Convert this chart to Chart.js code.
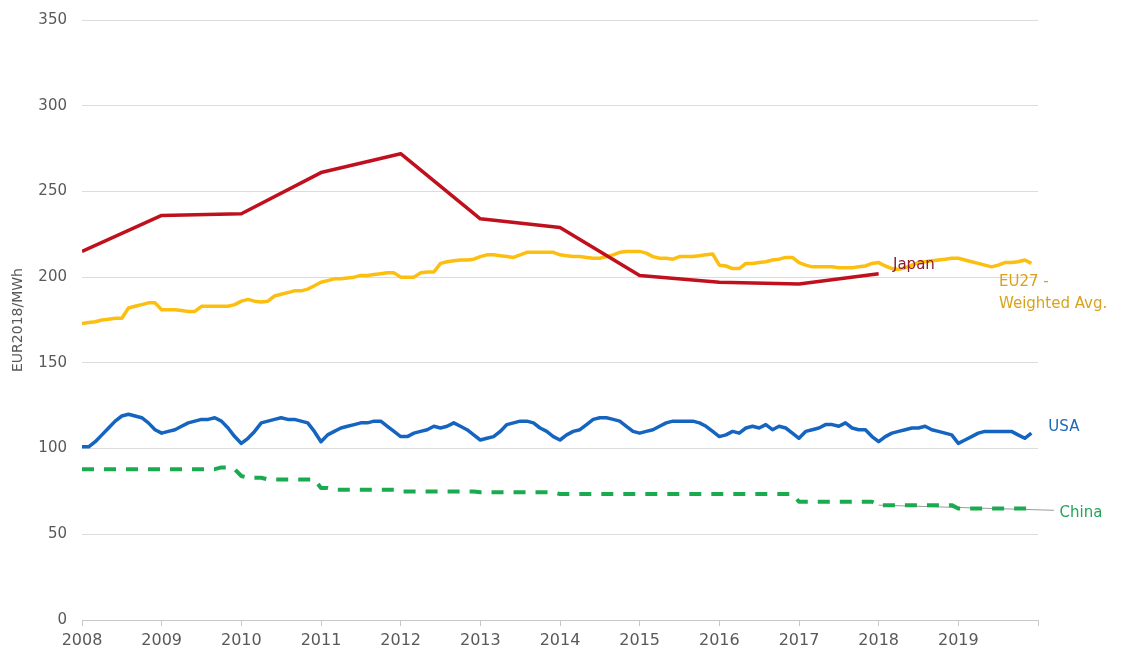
<!DOCTYPE html>
<html>
<head>
<meta charset="utf-8">
<script src="https://cdn.jsdelivr.net/npm/chart.js@4/dist/chart.umd.min.js"></script>
<style>
  html, body { margin: 0; padding: 0; background: #fff; }
  #wrap { width: 1126px; height: 662px; }
</style>
</head>
<body>
<div id="wrap"><canvas id="chart" width="1126" height="662"></canvas></div>
<script>
// year ticks on the x axis (2020 gets a tick but no label)
const yearTicks = [2008, 2009, 2010, 2011, 2012, 2013, 2014, 2015, 2016, 2017, 2018, 2019, 2020];
const startYear = 2008;

// Japan - yearly values
const japanYears = [2008, 2009, 2010, 2011, 2012, 2013, 2014, 2015, 2016, 2017, 2018];
const japanValues = [215, 236, 237, 261, 272, 234, 229, 201, 197, 196, 202];

// EU27 weighted average - monthly, Jan 2008 .. Dec 2019
const euValues = [
  173, 173.5, 174, 175, 175.5, 176, 176, 182, 183, 184, 185, 185,
  181, 181, 181, 180.5, 180, 180, 183, 183, 183, 183, 183, 184,
  186, 187, 186, 185.5, 186, 189, 190, 191, 192, 192, 193, 195,
  197, 198, 199, 199, 199.5, 200, 201, 201, 201.5, 202, 202.5, 202.5,
  200, 200, 200, 202.5, 203, 203, 208, 209, 209.5, 210, 210, 210.5,
  212, 213, 213, 212.5, 212, 211.5, 213, 214.5, 214.5, 214.5, 214.5, 214.5,
  213, 212.5, 212, 212, 211.5, 211, 211, 212, 213, 214.5, 215, 215,
  215, 214, 212, 211, 211, 210.5, 212, 212, 212, 212.5, 213, 213.5,
  207, 206.5, 205, 205, 208, 208, 208.5, 209, 210, 210.5, 211.5, 211.5,
  208.5, 207, 206, 206, 206, 206, 205.5, 205.5, 205.5, 206, 206.5, 208,
  208.5, 206.5, 205, 204.5, 205.5, 207, 208.5, 209, 209.5, 210, 210.5, 211,
  211, 210, 209, 208, 207, 206, 207, 208.5, 208.5, 209, 210, 208
];

// USA - monthly
const usaValues = [
  101, 101, 104, 108, 112, 116, 119, 120, 119, 118, 115, 111,
  109, 110, 111, 113, 115, 116, 117, 117, 118, 116, 112, 107,
  103, 106, 110, 115, 116, 117, 118, 117, 117, 116, 115, 110,
  104, 108, 110, 112, 113, 114, 115, 115, 116, 116, 113, 110,
  107, 107, 109, 110, 111, 113, 112, 113, 115, 113, 111, 108,
  105, 106, 107, 110, 114, 115, 116, 116, 115, 112, 110, 107,
  105, 108, 110, 111, 114, 117, 118, 118, 117, 116, 113, 110,
  109, 110, 111, 113, 115, 116, 116, 116, 116, 115, 113, 110,
  107, 108, 110, 109, 112, 113, 112, 114, 111, 113, 112, 109,
  106, 110, 111, 112, 114, 114, 113, 115, 112, 111, 111, 107,
  104, 107, 109, 110, 111, 112, 112, 113, 111, 110, 109, 108,
  103, 105, 107, 109, 110, 110, 110, 110, 110, 108, 106, 109
];

// China - monthly
const chinaValues = [
  88, 88, 88, 88, 88, 88, 88, 88, 88, 88, 88, 88,
  88, 88, 88, 88, 88, 88, 88, 88, 88, 89, 89, 88,
  84, 83, 83, 83, 82, 82, 82, 82, 82, 82, 82, 82,
  77, 77, 76, 76, 76, 76, 76, 76, 76, 76, 76, 76,
  75, 75, 75, 75, 75, 75, 75, 75, 75, 75, 75, 75,
  74.5, 74.5, 74.5, 74.5, 74.5, 74.5, 74.5, 74.5, 74.5, 74.5, 74.5, 74.5,
  73.5, 73.5, 73.5, 73.5, 73.5, 73.5, 73.5, 73.5, 73.5, 73.5, 73.5, 73.5,
  73.5, 73.5, 73.5, 73.5, 73.5, 73.5, 73.5, 73.5, 73.5, 73.5, 73.5, 73.5,
  73.5, 73.5, 73.5, 73.5, 73.5, 73.5, 73.5, 73.5, 73.5, 73.5, 73.5, 73.5,
  69, 69, 69, 69, 69, 69, 69, 69, 69, 69, 69, 69,
  67, 67, 67, 67, 67, 67, 67, 67, 67, 67, 67, 67,
  65, 65, 65, 65, 65, 65, 65, 65, 65, 65, 65, 65
];

// thin grey leader line to the China label
const leaderX = [2018.0, 2020.2];
const leaderY = [67, 64];

const monthly = (vals) => vals.map((v, i) => ({ x: startYear + i / 12, y: v }));
const paired = (xs, ys) => xs.map((x, i) => ({ x: x, y: ys[i] }));

// series labels, placed in data coordinates
const seriesLabels = [
  { lines: ["Japan"], x: 2018.18, y: 207, color: "#8e1b2c" },
  { lines: ["EU27 -", "Weighted Avg."], x: 2019.51, y: 197, color: "#d9a21b" },
  { lines: ["USA"], x: 2020.13, y: 112.5, color: "#2068b8" },
  { lines: ["China"], x: 2020.27, y: 62.5, color: "#22a55a" },
];

const labelPlugin = {
  id: "seriesLabels",
  afterDatasetsDraw(chart) {
    const { ctx, scales } = chart;
    ctx.save();
    ctx.font = "15px 'DejaVu Sans'";
    ctx.textAlign = "left";
    ctx.textBaseline = "middle";
    seriesLabels.forEach((l) => {
      const px = scales.x.getPixelForValue(l.x);
      const py = scales.y.getPixelForValue(l.y);
      ctx.fillStyle = l.color;
      l.lines.forEach((t, k) => ctx.fillText(t, px, py + k * 22));
    });
    ctx.restore();
  },
};

Chart.defaults.font.family = "'DejaVu Sans', sans-serif";
Chart.defaults.color = "#595959";

new Chart(document.getElementById("chart"), {
  type: "line",
  data: {
    datasets: [
      {
        label: "Japan",
        data: paired(japanYears, japanValues),
        borderColor: "#c0101e",
        borderWidth: 3.5,
      },
      {
        label: "EU27 - Weighted Avg.",
        data: monthly(euValues),
        borderColor: "#fcbf0f",
        borderWidth: 3.5,
      },
      {
        label: "USA",
        data: monthly(usaValues),
        borderColor: "#1565c0",
        borderWidth: 3.5,
      },
      {
        label: "China",
        data: monthly(chinaValues),
        borderColor: "#1aaa4f",
        borderWidth: 4,
        borderDash: [12, 10],
      },
      {
        label: "leader",
        data: paired(leaderX, leaderY),
        borderColor: "#9a9a9a",
        borderWidth: 1,
        clip: false,
      },
    ],
  },
  options: {
    responsive: false,
    animation: false,
    events: [],
    layout: { padding: { left: 0, right: 88, top: 20, bottom: 0 } },
    elements: {
      point: { radius: 0 },
      line: { tension: 0, borderCapStyle: "butt", borderJoinStyle: "round" },
    },
    plugins: {
      legend: { display: false },
      tooltip: { enabled: false },
    },
    scales: {
      x: {
        type: "linear",
        min: 2008,
        max: 2020,
        afterBuildTicks: (scale) => {
          scale.ticks = yearTicks.map((v) => ({ value: v }));
        },
        afterFit: (scale) => {
          scale.height = 42;
        },
        ticks: {
          font: { size: 16 },
          color: "#595959",
          padding: 5,
          maxRotation: 0,
          autoSkip: false,
          callback: (v) => (v === 2020 ? "" : String(v)),
        },
        grid: {
          drawOnChartArea: false,
          tickLength: 6,
          color: "#c8c8c8",
        },
        border: { color: "#c8c8c8" },
      },
      y: {
        min: 0,
        max: 350,
        afterFit: (scale) => {
          scale.width = 82;
          scale.paddingTop = 0;
          scale.paddingBottom = 0;
        },
        ticks: {
          stepSize: 50,
          font: { size: 15 },
          color: "#595959",
          padding: 15,
        },
        grid: { color: "#dcdcdc", drawTicks: false },
        border: { display: false },
        title: {
          display: true,
          text: "EUR2018/MWh",
          font: { size: 14 },
          color: "#595959",
          padding: { top: 10, bottom: 0 },
        },
      },
    },
  },
  plugins: [labelPlugin],
});
</script>
</body>
</html>
